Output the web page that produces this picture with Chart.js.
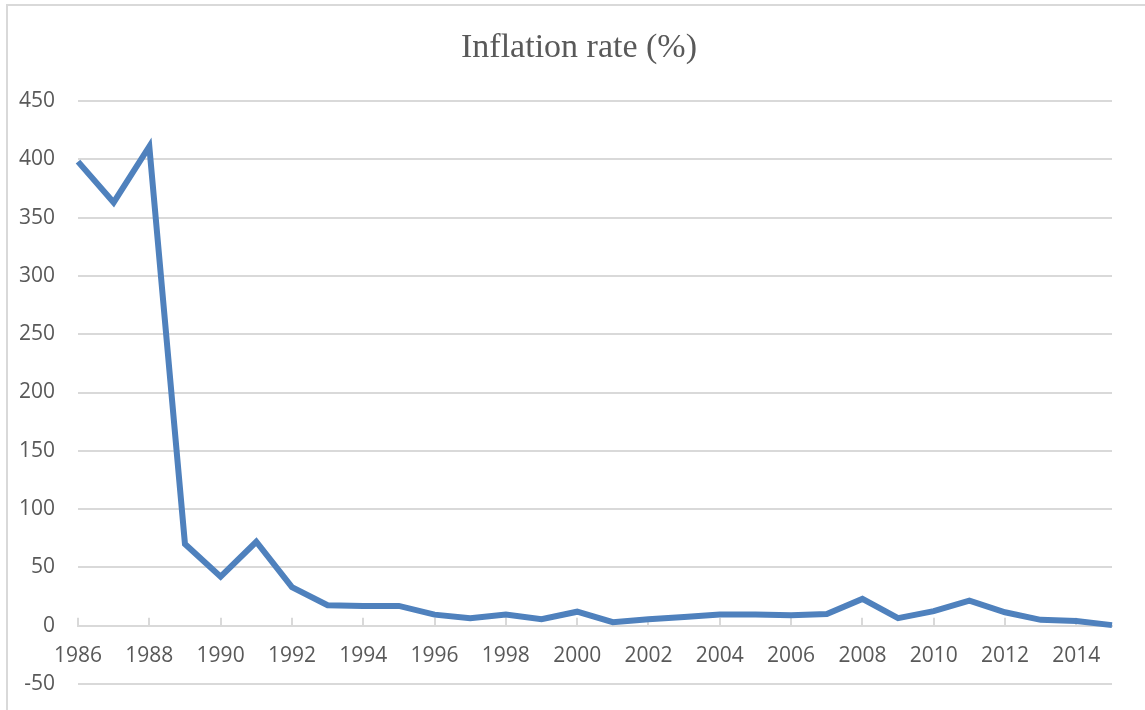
<!DOCTYPE html>
<html>
<head>
<meta charset="utf-8">
<script src="https://cdn.jsdelivr.net/npm/chart.js@4/dist/chart.umd.min.js"></script>
<style>
  html, body { margin: 0; padding: 0; background: #ffffff; }
  #wrap { width: 1145px; height: 710px; position: relative; }
</style>
</head>
<body>
<div id="wrap"><canvas id="c" width="1145" height="710"></canvas></div>
<script>
const years = [1986,1987,1988,1989,1990,1991,1992,1993,1994,1995,1996,1997,1998,1999,2000,
               2001,2002,2003,2004,2005,2006,2007,2008,2009,2010,2011,2012,2013,2014,2015];
const inflation = [398,363,411,70,42,72,33,17.5,17,17,9.5,6.5,9.5,5.5,12,
                   3,5.5,7.5,9.5,9.5,9,10,23,6.5,12.5,21.5,11.5,5,4,0.5];
const yTicks = [-50,0,50,100,150,200,250,300,350,400,450];
const titleText = 'Inflation rate (%)';

const GRID = '#d9d9d9';
const TEXT = '#595959';

const decor = {
  id: 'decor',
  beforeDraw(chart) {
    const ctx = chart.ctx;
    ctx.save();
    ctx.fillStyle = '#ffffff';
    ctx.fillRect(0, 0, chart.width, chart.height);
    // chart frame
    ctx.strokeStyle = GRID;
    ctx.lineWidth = 2;
    ctx.beginPath();
    ctx.moveTo(7, chart.height);
    ctx.lineTo(7, 5);
    ctx.lineTo(chart.width, 5);
    ctx.stroke();
    // title
    ctx.fillStyle = TEXT;
    ctx.font = '34px "Liberation Serif", "Times New Roman", serif';
    ctx.textAlign = 'center';
    ctx.textBaseline = 'alphabetic';
    ctx.fillText(titleText, 579, 57);
    ctx.restore();
  },
  beforeDatasetsDraw(chart) {
    const ctx = chart.ctx;
    const x = chart.scales.x, y = chart.scales.y;
    const y0 = y.getPixelForValue(0);
    ctx.save();
    ctx.strokeStyle = GRID;
    ctx.lineWidth = 2;
    ctx.beginPath();
    years.forEach((yr, i) => {
      if (yr % 2 === 0) {
        const px = Math.round(x.getPixelForValue(i));
        ctx.moveTo(px, y0 - 8);
        ctx.lineTo(px, y0);
      }
    });
    ctx.stroke();
    ctx.restore();
  }
};

new Chart(document.getElementById('c'), {
  type: 'line',
  data: {
    labels: years.map(String),
    datasets: [{
      data: inflation,
      borderColor: '#4f81bd',
      backgroundColor: '#4f81bd',
      borderWidth: 6,
      pointRadius: 0,
      tension: 0,
      borderJoinStyle: 'miter',
      borderCapStyle: 'butt'
    }]
  },
  options: {
    responsive: false,
    animation: false,
    layout: { padding: { left: 0, right: 33, top: 101, bottom: 26 } },
    plugins: { legend: { display: false }, title: { display: false }, tooltip: { enabled: false } },
    scales: {
      x: {
        type: 'category',
        position: { y: 0 },
        offset: false,
        afterFit(scale) { scale.height = 0; },
        grid: { display: false, drawTicks: false },
        border: { display: true, color: GRID, width: 2 },
        ticks: {
          autoSkip: false,
          maxRotation: 0,
          padding: 18,
          color: TEXT,
          font: { family: '"Open Sans", sans-serif', size: 21 },
          callback: function(v, i) { return years[i] % 2 === 0 ? String(years[i]) : ''; }
        }
      },
      y: {
        min: -50,
        max: 450,
        afterBuildTicks(scale) { scale.ticks = yTicks.map(v => ({ value: v })); },
        afterFit(scale) { scale.width = 78; scale.paddingTop = 0; scale.paddingBottom = 0; },
        grid: { color: GRID, lineWidth: 2, drawTicks: false },
        border: { display: false },
        ticks: {
          padding: 23,
          color: TEXT,
          font: { family: '"Open Sans", sans-serif', size: 21 }
        }
      }
    }
  },
  plugins: [decor]
});
</script>
</body>
</html>
